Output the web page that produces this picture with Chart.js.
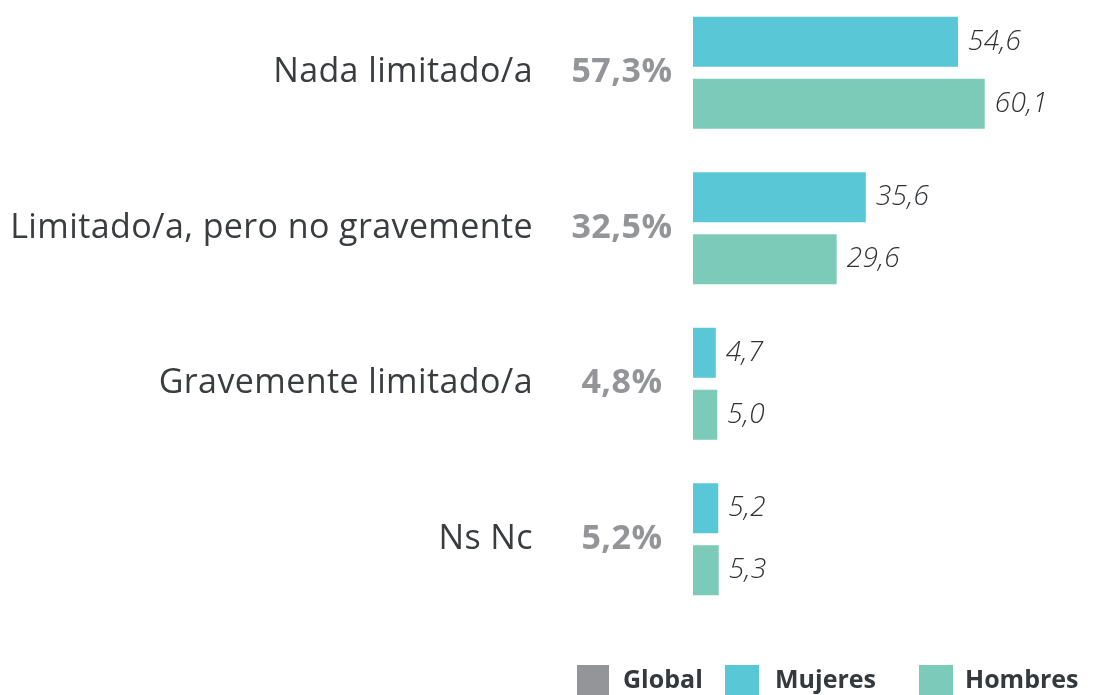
<!DOCTYPE html>
<html>
<head>
<meta charset="utf-8">
<script src="https://cdn.jsdelivr.net/npm/chart.js@4/dist/chart.umd.min.js"></script>
<style>
  html, body { margin: 0; padding: 0; background: #fff; overflow: hidden; }
  #wrap { position: relative; width: 1107px; height: 700px; margin-top: -5px; }
  #legend { position: absolute; left: 0; top: 0; width: 1107px; height: 695px; pointer-events: none; font-family: "Open Sans", sans-serif; }
  .sw { position: absolute; top: 665px; width: 32px; height: 32px; }
  .lt { position: absolute; top: 661px; font-size: 25px; font-weight: 700; color: #33393d; white-space: nowrap; }
</style>
</head>
<body>
<div id="wrap"><canvas id="chart" width="1107" height="700"></canvas></div>
<div id="legend">
  <div class="sw" style="left:577px;background:#939598"></div><div class="lt" style="left:623px">Global</div>
  <div class="sw" style="left:725px;width:34px;background:#59c7d5"></div><div class="lt" style="left:775px">Mujeres</div>
  <div class="sw" style="left:919px;width:34px;background:#7bcbb8"></div><div class="lt" style="left:965px">Hombres</div>
</div>
<script>
let categories = ["Nada limitado/a", "Limitado/a, pero no gravemente", "Gravemente limitado/a", "Ns Nc"]
let globalLabels = ["57,3%", "32,5%", "4,8%", "5,2%"]
let mujeres = [54.6, 35.6, 4.7, 5.2]
let hombres = [60.1, 29.6, 5.0, 5.3]

let colors = ["#59c7d5", "#7bcbb8", "#939598"]

// text beside the bars: category names, global %, and values
const sideText = {
    id: 'sideText',
    afterDatasetsDraw(chart) {
        const ctx = chart.ctx
        const y = chart.scales.y
        ctx.save()
        ctx.textBaseline = 'middle'
        categories.forEach((c, i) => {
            let py = y.getPixelForValue(i)
            ctx.fillStyle = '#3a3d40'
            ctx.font = '400 34px "Open Sans"'
            ctx.letterSpacing = '0.4px'
            ctx.textAlign = 'right'
            ctx.fillText(c, 533, py)
            ctx.fillStyle = colors[2]
            ctx.font = '700 34px "Open Sans"'
            ctx.letterSpacing = '0.5px'
            ctx.textAlign = 'center'
            ctx.fillText(globalLabels[i], 622, py)
        })
        ctx.font = 'italic 300 28px "Open Sans"'
        ctx.letterSpacing = '0.3px'
        ctx.fillStyle = '#2f3235'
        ctx.textAlign = 'left'
        chart.data.datasets.forEach((ds, d) => {
            chart.getDatasetMeta(d).data.forEach((bar, i) => {
                let txt = ds.data[i].toFixed(1).replace('.', ',')
                ctx.fillText(txt, bar.x + 10, bar.y)
            })
        })
        ctx.restore()
    }
}

new Chart(document.getElementById('chart').getContext('2d'), {
    type: 'bar',
    data: {
        labels: categories,
        datasets: [
            { label: 'Mujeres', data: mujeres, backgroundColor: colors[0] },
            { label: 'Hombres', data: hombres, backgroundColor: colors[1] }
        ]
    },
    options: {
        indexAxis: 'y',
        responsive: false,
        animation: false,
        devicePixelRatio: 1,
        layout: { padding: { left: 693, right: 25.7, top: 0, bottom: 78 } },
        datasets: { bar: { categoryPercentage: 0.797, barPercentage: 0.806, borderWidth: 0 } },
        scales: {
            x: { display: false, min: 0, max: 80 },
            y: { display: false }
        },
        plugins: {
            legend: { display: false },
            tooltip: { enabled: false }
        }
    },
    plugins: [sideText]
})
</script>
</body>
</html>
